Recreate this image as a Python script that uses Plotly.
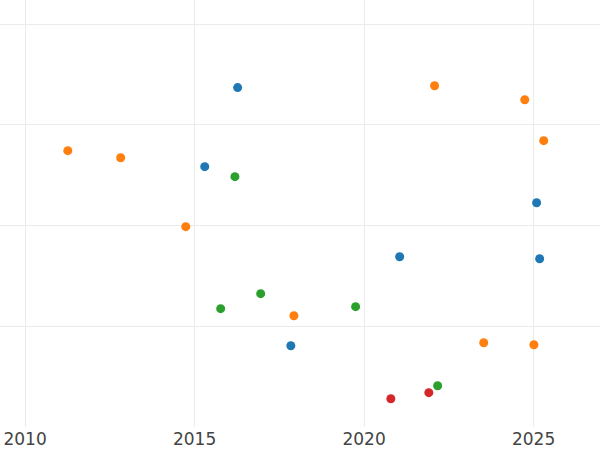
import plotly.graph_objects as go

blue_x = [2016.27, 2015.30, 2021.05, 2017.84, 2025.09, 2025.18]
blue_y = [33.70, 25.85, 16.91, 8.07, 22.27, 16.71]

orange_x = [2011.26, 2012.82, 2014.74, 2017.93, 2022.08, 2024.74, 2025.30, 2023.53, 2025.01]
orange_y = [27.44, 26.74, 19.89, 11.05, 33.89, 32.50, 28.43, 8.37, 8.17]

green_x = [2016.19, 2015.77, 2016.95, 2019.75, 2022.17]
green_y = [24.86, 11.75, 13.24, 11.95, 4.10]

red_x = [2020.79, 2021.91]
red_y = [2.81, 3.41]

series = [
    ("A", blue_x, blue_y, "#1f77b4"),
    ("B", orange_x, orange_y, "#ff7f0e"),
    ("C", green_x, green_y, "#2ca02c"),
    ("D", red_x, red_y, "#d62728"),
]

fig = go.Figure()
for name, xs, ys, c in series:
    fig.add_trace(go.Scatter(x=xs, y=ys, mode="markers", name=name,
                             marker=dict(size=9, color=c)))

fig.update_layout(
    width=600, height=450,
    margin=dict(l=0, r=0, t=0, b=23),
    plot_bgcolor="white", paper_bgcolor="white",
    showlegend=False,
    font=dict(family="DejaVu Sans", size=17, color="#444"),
)
fig.update_xaxes(range=[2009.26, 2026.96], dtick=5, tick0=2010,
                 showgrid=True, gridcolor="#ebebeb", gridwidth=1,
                 zeroline=False, showline=False, ticks="")
fig.update_yaxes(range=[0, 42.4], dtick=10, tick0=0,
                 showgrid=True, gridcolor="#ebebeb", gridwidth=1,
                 zeroline=False, showline=False, showticklabels=False)

fig.write_html("out.html", config={"displayModeBar": False},
               post_script="document.body.style.margin='0';document.body.style.overflow='hidden';")
